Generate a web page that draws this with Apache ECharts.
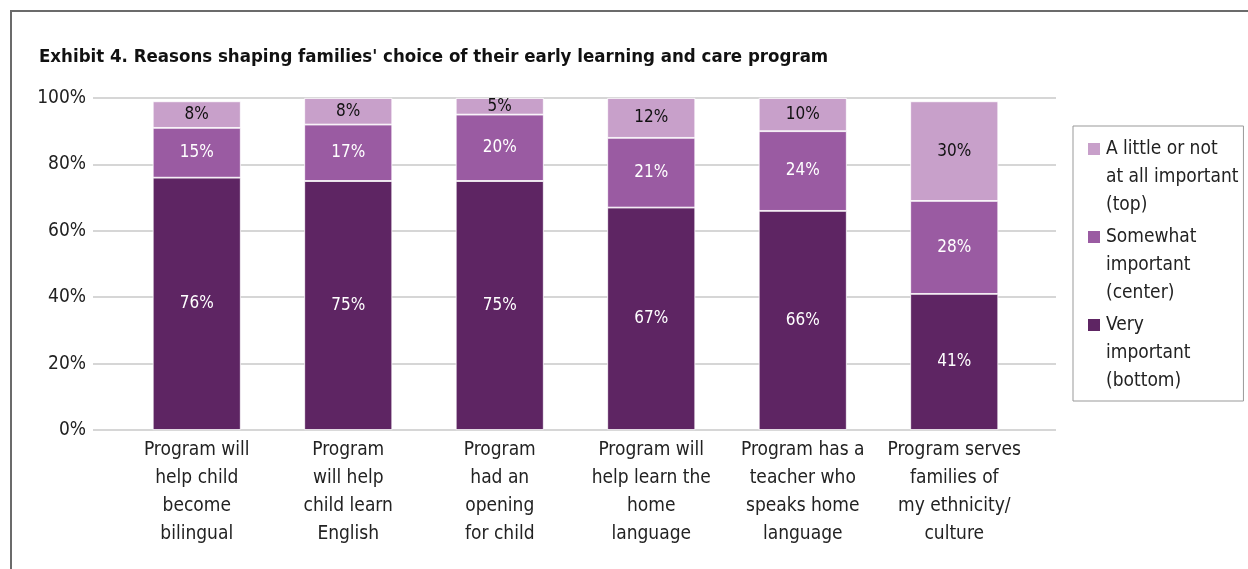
<!DOCTYPE html>
<html>
<head>
<meta charset="utf-8">
<script src="https://cdn.jsdelivr.net/npm/echarts@6/dist/echarts.min.js"></script>
<style>
  html, body { margin: 0; padding: 0; background: #fff; }
  #frame { position: absolute; left: 10px; top: 10px; width: 1238px; height: 559px;
    border-left: 2px solid #6b6b6b; border-top: 2px solid #6b6b6b; }
  #main { position: absolute; left: 0; top: 0; width: 1248px; height: 569px; }
</style>
</head>
<body>
<div id="frame"></div>
<div id="main"></div>
<script>
const categories = [
  'Program will\nhelp child\nbecome\nbilingual',
  'Program\nwill help\nchild learn\nEnglish',
  'Program\nhad an\nopening\nfor child',
  'Program will\nhelp learn the\nhome\nlanguage',
  'Program has a\nteacher who\nspeaks home\nlanguage',
  'Program serves\nfamilies of\nmy ethnicity/\nculture'
]
const veryImportant = [76, 75, 75, 67, 66, 41]
const somewhatImportant = [15, 17, 20, 21, 24, 28]
const littleImportant = [8, 8, 5, 12, 10, 30]
const yTicks = [0, 20, 40, 60, 80, 100]

const font = '"Liberation Sans Narrow", "DejaVu Sans Condensed", sans-serif'
const names = ['A little or not\nat all important\n(top)', 'Somewhat\nimportant\n(center)', 'Very\nimportant\n(bottom)']

// square sitting on the first text line of a three-line legend entry
const legendIcon = 'path://M0,0L0.01,0Z M0,7L14,7L14,21L0,21Z M0,84L0.01,84Z'

function seg(name, data, color, textColor) {
  return {
    name: name,
    type: 'bar',
    stack: 'total',
    xAxisIndex: 1,
    yAxisIndex: 1,
    barWidth: 88,
    data: data,
    itemStyle: { color: color, borderColor: '#fff', borderWidth: 0.8 },
    label: {
      show: true,
      position: 'inside',
      formatter: '{c}%',
      color: textColor,
      fontFamily: font,
      fontSize: 17
    }
  }
}

const chart = echarts.init(document.getElementById('main'))
chart.setOption({
  animation: false,
  title: {
    text: "Exhibit 4. Reasons shaping families' choice of their early learning and care program",
    left: 34,
    top: 43,
    textStyle: { fontFamily: font, fontWeight: 'bold', fontSize: 18.5, color: '#111' }
  },
  legend: {
    orient: 'vertical',
    left: 1073,
    top: 126,
    data: [names[0], names[1], names[2]],
    icon: legendIcon,
    itemWidth: 14,
    itemHeight: 84,
    itemGap: 2,
    padding: [8, 5, 5, 13],
    borderColor: '#999',
    borderWidth: 1,
    textStyle: { fontFamily: font, fontSize: 19, lineHeight: 28, color: '#222' }
  },
  grid: [
    { left: 93, right: 192, top: 98, bottom: 139 },
    { left: 121, right: 218, top: 98, bottom: 139 }
  ],
  xAxis: [
    { type: 'value', gridIndex: 0, show: false },
    {
      type: 'category',
      gridIndex: 1,
      data: categories,
      axisLine: { show: false },
      axisTick: { show: false },
      axisLabel: {
        interval: 0,
        margin: 6,
        fontFamily: font,
        fontSize: 19,
        lineHeight: 28,
        color: '#222',
        align: 'center'
      }
    }
  ],
  yAxis: [
    {
      type: 'value',
      gridIndex: 0,
      min: yTicks[0],
      max: yTicks[yTicks.length - 1],
      interval: 20,
      axisLine: { show: false },
      axisTick: { show: false },
      axisLabel: { formatter: '{value}%', fontFamily: font, fontSize: 19, color: '#222', margin: 7 },
      splitLine: { lineStyle: { color: '#c8c8c8', width: 1.5 } }
    },
    { type: 'value', gridIndex: 1, min: 0, max: 100, show: false }
  ],
  series: [
    seg(names[2], veryImportant, '#5e2563', '#fff'),
    seg(names[1], somewhatImportant, '#9a5ba2', '#fff'),
    seg(names[0], littleImportant, '#c8a0ca', '#111')
  ]
})
</script>
</body>
</html>
